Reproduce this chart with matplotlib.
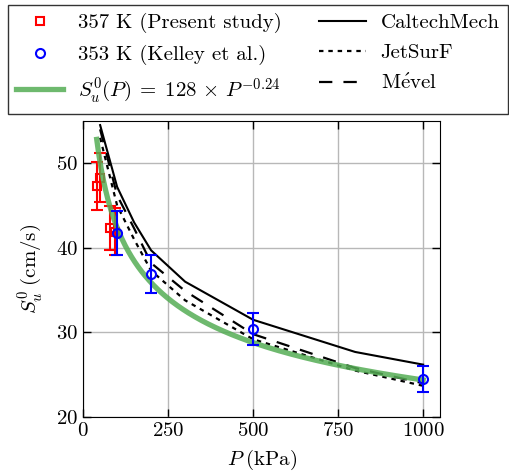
import matplotlib
matplotlib.use("Agg")
import matplotlib.pyplot as plt
import numpy as np

plt.rcParams['font.family'] = ['cmr10', 'DejaVu Serif']
plt.rcParams['mathtext.fontset'] = 'cm'
plt.rcParams['axes.formatter.use_mathtext'] = True
plt.rcParams['font.size'] = 15

# present study, 357 K
p_present = [42, 50, 79, 94]
s_present = [47.3, 48.3, 42.4, 41.9]
err_present = [2.8, 2.9, 2.6, 2.8]

# Kelley et al., 353 K
p_kelley = [100, 200, 500, 1000]
s_kelley = [41.7, 36.9, 30.4, 24.5]
err_kelley = [2.6, 2.2, 1.9, 1.5]

# mechanisms
p_caltech = [50, 100, 150, 200, 300, 500, 800, 1000]
s_caltech = [54.5, 47.2, 43.0, 39.7, 36.0, 31.5, 27.7, 26.2]
p_jetsurf = [50, 100, 150, 200, 300, 500, 800, 1000]
s_jetsurf = [53.0, 45.0, 41.0, 37.3, 33.8, 29.2, 25.5, 23.7]
p_mevel = [50, 100, 150, 200, 300, 500, 800, 1000]
s_mevel = [54.0, 46.2, 42.3, 38.2, 34.9, 29.8, 25.8, 24.0]

# fit
fit_a = 128
fit_b = -0.24
p_fit = np.linspace(40, 1000, 300)

fig = plt.figure(figsize=(5.1, 4.74), dpi=100)
ax = fig.add_axes([0.163, 0.120, 0.700, 0.625])

ax.grid(True, color='#b8b8b8', linewidth=1.0)
ax.set_axisbelow(True)

h_cal, = ax.plot(p_caltech, s_caltech, '-', color='k', lw=1.5, label='CaltechMech', zorder=3)
h_jet, = ax.plot(p_jetsurf, s_jetsurf, color='k', lw=1.6, dashes=(2, 2.2), label='JetSurF', zorder=3)
h_mev, = ax.plot(p_mevel, s_mevel, color='k', lw=1.6, dashes=(6, 5), label=r'M$\acute{\mathrm{e}}$vel', zorder=3)

h_red = ax.errorbar(p_present, s_present, yerr=err_present, fmt='s', color='red',
                    mfc='none', mew=1.5, ms=6, capsize=4, elinewidth=1.5, capthick=1.5,
                    label='357 K (Present study)', zorder=4)
h_fit, = ax.plot(p_fit, fit_a * p_fit ** fit_b, '-', color='#55ad55', alpha=0.85, lw=3.8,
                 label=r'$S_u^0(P) \;=\; 128 \,\times\, P^{-0.24}$', zorder=5)
h_blue = ax.errorbar(p_kelley, s_kelley, yerr=err_kelley, fmt='o', color='blue',
                     mfc='none', mew=1.5, ms=6.5, capsize=4, elinewidth=1.5, capthick=1.5,
                     label='353 K (Kelley et al.)', zorder=6)

ax.set_xlim(0, 1050)
ax.set_ylim(20, 55)
ax.set_xticks([0, 250, 500, 750, 1000])
ax.set_yticks([20, 30, 40, 50])
ax.tick_params(direction='in', top=True, right=True, length=6, width=1, labelsize=15)
ax.set_xlabel(r'$P\;$(kPa)', fontsize=15, labelpad=6)
ax.set_ylabel(r'$S_u^0\;$(cm/s)', fontsize=15, labelpad=8)

handles = [h_red[0], h_blue[0], h_fit, h_cal, h_jet, h_mev]
labels = [h.get_label() for h in [h_red, h_blue, h_fit, h_cal, h_jet, h_mev]]
fig.legend(handles, labels, loc='upper left', ncol=2, mode='expand',
           bbox_to_anchor=(8 / 510, 1 - 108 / 474, 500 / 510, 103 / 474),
           fancybox=False, edgecolor='#333333', framealpha=1, fontsize=15,
           handlelength=2.25, handletextpad=0.7, columnspacing=1.0, borderaxespad=0,
           labelspacing=0.55, borderpad=0.4)

fig.savefig('out.png', dpi=100)
